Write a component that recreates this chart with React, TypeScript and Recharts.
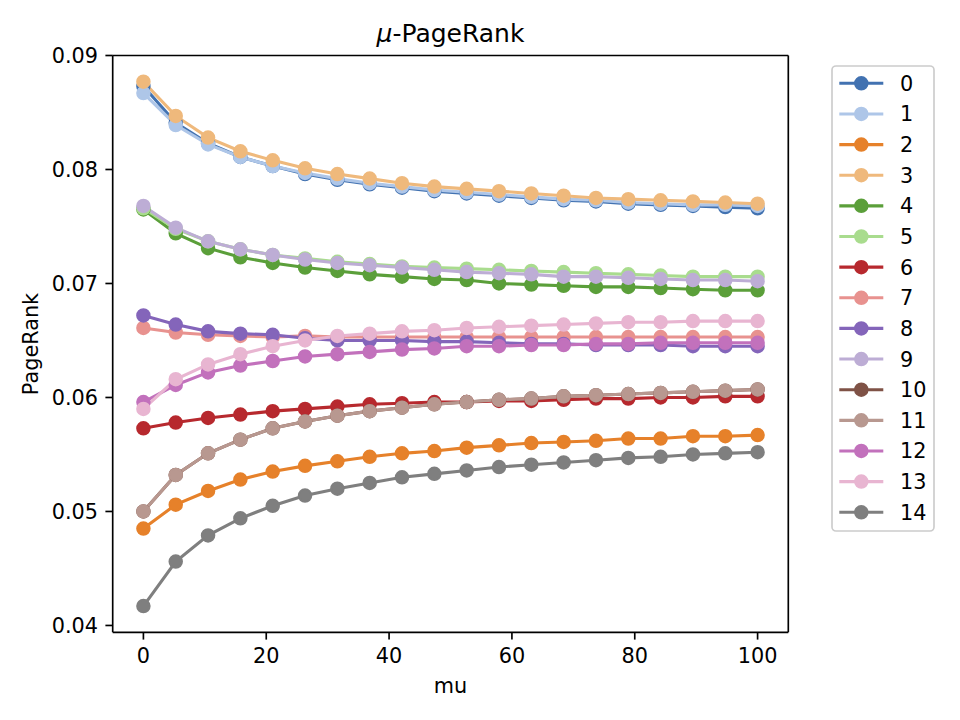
import { LineChart, Line, XAxis, YAxis, Legend, ReferenceLine } from 'recharts'

// mu values (linspace 0..100, 20 steps)
const muValues = [
  0, 5.263, 10.526, 15.789, 21.053, 26.316, 31.579, 36.842, 42.105, 47.368,
  52.632, 57.895, 63.158, 68.421, 73.684, 78.947, 84.211, 89.474, 94.737, 100,
]

const node0 = [0.0873, 0.0841, 0.0823, 0.0811, 0.0803, 0.0796, 0.0791, 0.0787, 0.0784, 0.0781, 0.0779, 0.0777, 0.0775, 0.0773, 0.0772, 0.0770, 0.0769, 0.0768, 0.0767, 0.0766]
const node1 = [0.0867, 0.0839, 0.0822, 0.0811, 0.0803, 0.0797, 0.0792, 0.0788, 0.0785, 0.0782, 0.0780, 0.0778, 0.0776, 0.0774, 0.0773, 0.0771, 0.0770, 0.0769, 0.0769, 0.0768]
const node2 = [0.0485, 0.0506, 0.0518, 0.0528, 0.0535, 0.0540, 0.0544, 0.0548, 0.0551, 0.0553, 0.0556, 0.0558, 0.0560, 0.0561, 0.0562, 0.0564, 0.0564, 0.0566, 0.0566, 0.0567]
const node3 = [0.0877, 0.0847, 0.0828, 0.0816, 0.0808, 0.0801, 0.0796, 0.0792, 0.0788, 0.0785, 0.0783, 0.0781, 0.0779, 0.0777, 0.0775, 0.0774, 0.0773, 0.0772, 0.0771, 0.0770]
const node4 = [0.0765, 0.0744, 0.0731, 0.0723, 0.0718, 0.0714, 0.0711, 0.0708, 0.0706, 0.0704, 0.0703, 0.0700, 0.0699, 0.0698, 0.0697, 0.0697, 0.0696, 0.0695, 0.0694, 0.0694]
const node5 = [0.0766, 0.0748, 0.0737, 0.0730, 0.0725, 0.0722, 0.0719, 0.0717, 0.0715, 0.0714, 0.0713, 0.0712, 0.0711, 0.0710, 0.0709, 0.0708, 0.0707, 0.0706, 0.0706, 0.0706]
const node6 = [0.0573, 0.0578, 0.0582, 0.0585, 0.0588, 0.0590, 0.0592, 0.0594, 0.0595, 0.0596, 0.0596, 0.0597, 0.0597, 0.0598, 0.0599, 0.0599, 0.0600, 0.0600, 0.0601, 0.0601]
const node7 = [0.0661, 0.0657, 0.0655, 0.0654, 0.0653, 0.0654, 0.0653, 0.0653, 0.0653, 0.0653, 0.0653, 0.0653, 0.0653, 0.0653, 0.0653, 0.0653, 0.0653, 0.0653, 0.0653, 0.0653]
const node8 = [0.0672, 0.0664, 0.0658, 0.0656, 0.0655, 0.0652, 0.0650, 0.0650, 0.0650, 0.0649, 0.0649, 0.0648, 0.0647, 0.0647, 0.0646, 0.0646, 0.0646, 0.0645, 0.0645, 0.0645]
const node9 = [0.0768, 0.0749, 0.0737, 0.0730, 0.0725, 0.0721, 0.0718, 0.0716, 0.0714, 0.0712, 0.0710, 0.0709, 0.0708, 0.0706, 0.0706, 0.0705, 0.0704, 0.0703, 0.0703, 0.0702]
// node 10 is hidden underneath node 11 in the picture
const node10 = [0.0500, 0.0532, 0.0551, 0.0563, 0.0573, 0.0579, 0.0584, 0.0588, 0.0591, 0.0594, 0.0596, 0.0598, 0.0599, 0.0601, 0.0602, 0.0603, 0.0604, 0.0605, 0.0606, 0.0607]
const node11 = [0.0500, 0.0532, 0.0551, 0.0563, 0.0573, 0.0579, 0.0584, 0.0588, 0.0591, 0.0594, 0.0596, 0.0598, 0.0599, 0.0601, 0.0602, 0.0603, 0.0604, 0.0605, 0.0606, 0.0607]
const node12 = [0.0596, 0.0611, 0.0622, 0.0628, 0.0632, 0.0636, 0.0638, 0.0640, 0.0642, 0.0643, 0.0645, 0.0645, 0.0646, 0.0646, 0.0647, 0.0647, 0.0648, 0.0648, 0.0648, 0.0648]
const node13 = [0.0590, 0.0616, 0.0629, 0.0638, 0.0645, 0.0650, 0.0654, 0.0656, 0.0658, 0.0659, 0.0661, 0.0662, 0.0663, 0.0664, 0.0665, 0.0666, 0.0666, 0.0667, 0.0667, 0.0667]
const node14 = [0.0417, 0.0456, 0.0479, 0.0494, 0.0505, 0.0514, 0.0520, 0.0525, 0.0530, 0.0533, 0.0536, 0.0539, 0.0541, 0.0543, 0.0545, 0.0547, 0.0548, 0.0550, 0.0551, 0.0552]

const seriesValues = [
  node0, node1, node2, node3, node4, node5, node6, node7,
  node8, node9, node10, node11, node12, node13, node14,
]
const seriesNames = ['0', '1', '2', '3', '4', '5', '6', '7', '8', '9', '10', '11', '12', '13', '14']
const seriesColors = [
  '#4272b1', '#aec6e8', '#e6812a', '#efb97c', '#5b9f3a',
  '#a9dc8e', '#b7292e', '#e8928f', '#8465ba', '#bdadd5',
  '#7f5246', '#b89890', '#c271bc', '#e8b5d1', '#7f7f7f',
]

const xTicks = [0, 20, 40, 60, 80, 100]
const yTicks = [0.04, 0.05, 0.06, 0.07, 0.08, 0.09]
const xDomain: [number, number] = [-5, 105]
const yDomain: [number, number] = [0.0394, 0.09]

const FONT = '"DejaVu Sans", sans-serif'
const FS = 20.8

const rows = muValues.map((mu, i) => {
  const row: Record<string, number> = { mu }
  seriesValues.forEach((vals, s) => {
    row[`s${s}`] = vals[i]
  })
  return row
})

// legend box drawn like matplotlib's, in series order (not sorted)
function BoxLegend() {
  return (
    <svg width={104} height={467} style={{ display: 'block' }}>
      <rect x={1} y={1} width={102} height={465} rx={4} fill="#fff" fillOpacity={0.8} stroke="#cccccc" strokeWidth={1.67} />
      {seriesNames.map((name, i) => {
        const cy = 18.3 + i * 30.64
        const color = seriesColors[i]
        return (
          <g key={name}>
            <line x1={8.3} x2={52.3} y1={cy} y2={cy} stroke={color} strokeWidth={3.1} />
            <circle cx={30.3} cy={cy} r={6.25} fill={color} stroke={color} strokeWidth={2} />
            <text x={69} y={cy} dy="0.36em" fontFamily={FONT} fontSize={FS} fill="#000">
              {name}
            </text>
          </g>
        )
      })}
    </svg>
  )
}

export default function App() {
  return (
    <div style={{ position: 'absolute', left: 0, top: 0, width: 960, height: 720, background: '#fff' }}>
      <LineChart
        width={960}
        height={720}
        data={rows}
        margin={{ top: 55.5, right: 171.7, left: 52.7, bottom: 57.7 }}
      >
        <XAxis
          dataKey="mu"
          type="number"
          domain={xDomain}
          allowDataOverflow
          ticks={xTicks}
          tickSize={7.3}
          tickMargin={9}
          height={30}
          stroke="#000"
          strokeWidth={1.67}
          tick={{ fontSize: FS, fill: '#000', fontFamily: FONT }}
        />
        <YAxis
          type="number"
          domain={yDomain}
          allowDataOverflow
          ticks={yTicks}
          tickFormatter={(v: number) => v.toFixed(2)}
          tickSize={7.3}
          tickMargin={7.3}
          width={60}
          stroke="#000"
          strokeWidth={1.67}
          tick={{ fontSize: FS, fill: '#000', fontFamily: FONT }}
        />

        {/* top and right spines */}
        <ReferenceLine y={yDomain[1]} stroke="#000" strokeWidth={1.67} ifOverflow="visible" />
        <ReferenceLine x={xDomain[1]} stroke="#000" strokeWidth={1.67} ifOverflow="visible" />

        <Legend
          layout="vertical"
          align="center"
          verticalAlign="middle"
          content={<BoxLegend />}
          wrapperStyle={{ left: 831.3, top: 65, width: 104, height: 467 }}
        />

        {seriesValues.map((_, s) => (
          <Line
            key={s}
            type="linear"
            dataKey={`s${s}`}
            name={seriesNames[s]}
            stroke={seriesColors[s]}
            strokeWidth={3.1}
            dot={{ r: 6.25, fill: seriesColors[s], stroke: seriesColors[s], strokeWidth: 2 }}
            activeDot={false}
            isAnimationActive={false}
          />
        ))}
      </LineChart>

      <svg width={960} height={720} style={{ position: 'absolute', left: 0, top: 0, pointerEvents: 'none' }}>
        <text x={450.5} y={42.3} textAnchor="middle" fontFamily={FONT} fontSize={25} fill="#000">
          <tspan fontStyle="italic">μ</tspan>-PageRank
        </text>
        <text x={450.5} y={693} textAnchor="middle" fontFamily={FONT} fontSize={FS} fill="#000">
          mu
        </text>
        <text
          x={38}
          y={344}
          textAnchor="middle"
          fontFamily={FONT}
          fontSize={FS}
          fill="#000"
          transform="rotate(-90 38 344)"
        >
          PageRank
        </text>
      </svg>
    </div>
  )
}
